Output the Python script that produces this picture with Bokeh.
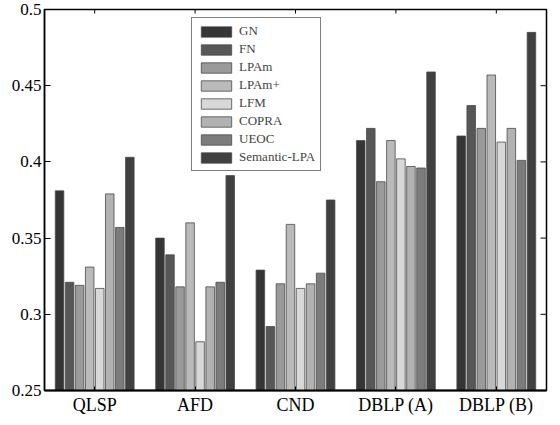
import math
from bokeh.plotting import figure
from bokeh.models import (ColumnDataSource, Legend, LegendItem, FixedTicker,
                          Range1d, NumeralTickFormatter)
from bokeh.embed import file_html
from bokeh.resources import INLINE

datasets = ["QLSP", "AFD", "CND", "DBLP (A)", "DBLP (B)"]
methods = ["GN", "FN", "LPAm", "LPAm+", "LFM", "COPRA", "UEOC", "Semantic-LPA"]
values = {
    "GN":           [0.381, 0.350, 0.329, 0.414, 0.417],
    "FN":           [0.321, 0.339, 0.292, 0.422, 0.437],
    "LPAm":         [0.319, 0.318, 0.320, 0.387, 0.422],
    "LPAm+":        [0.331, 0.360, 0.359, 0.414, 0.457],
    "LFM":          [0.317, 0.282, 0.317, 0.402, 0.413],
    "COPRA":        [0.379, 0.318, 0.320, 0.397, 0.422],
    "UEOC":         [0.357, 0.321, 0.327, 0.396, 0.401],
    "Semantic-LPA": [0.403, 0.391, 0.375, 0.459, 0.485],
}
colors = ["#353535", "#575757", "#9a9a9a", "#bababa", "#d8d8d8", "#b2b2b2", "#7c7c7c", "#404040"]
y_ticks = [0.25, 0.3, 0.35, 0.4, 0.45, 0.5]
x_min, x_max = 0.5, 5.5
y_min, y_max = 0.25, 0.5

FONT = "Liberation Serif"

p = figure(width=548, height=417, output_backend="svg", toolbar_location=None,
           x_range=Range1d(x_min, x_max), y_range=Range1d(y_min, y_max),
           min_border_left=44, min_border_right=2, min_border_top=9, min_border_bottom=0)
p.background_fill_color = "white"
p.outline_line_color = "black"
p.outline_line_width = 1.5
p.xgrid.visible = False
p.ygrid.visible = False

slot = 0.1
bw = 0.085
items = []
xs_cat = list(range(1, len(datasets) + 1))
for j, m in enumerate(methods):
    xs = [c + (j - (len(methods) - 1) / 2) * slot for c in xs_cat]
    src = ColumnDataSource(dict(x=xs, top=values[m]))
    r = p.vbar(x="x", top="top", bottom=y_min, width=bw, source=src,
               fill_color=colors[j], line_color="#4a4a4a", line_width=0.8)
    items.append(LegendItem(label=m, renderers=[r]))

# inward ticks on the top and right edges of the box
p.scatter(x=xs_cat, y=[y_max] * len(xs_cat), marker="dash", angle=math.pi / 2,
          size=8, line_color="black", line_width=1)
p.scatter(x=[x_max] * len(y_ticks), y=y_ticks, marker="dash",
          size=12, line_color="black", line_width=1)

# bottom axis
xa = p.xaxis[0]
xa.ticker = FixedTicker(ticks=xs_cat)
xa.major_label_overrides = {i + 1: d for i, d in enumerate(datasets)}
xa.major_tick_in = 4
xa.major_tick_out = 0
xa.minor_tick_line_color = None
xa.axis_line_width = 2
xa.major_label_text_font = FONT
xa.major_label_text_font_size = "18px"
xa.major_label_text_color = "black"
xa.major_label_standoff = 4
xa.axis_label_standoff = 0

ya = p.yaxis[0]
ya.ticker = FixedTicker(ticks=y_ticks)
ya.formatter = NumeralTickFormatter(format="0.[00]")
ya.major_tick_in = 6
ya.major_tick_out = 0
ya.minor_tick_line_color = None
ya.axis_line_width = 1.5
ya.major_label_text_font = FONT
ya.major_label_text_font_size = "17px"
ya.major_label_text_color = "black"
ya.major_label_standoff = 3
ya.axis_label_standoff = 0

legend = Legend(items=items, location=(147, 219), glyph_width=38, glyph_height=13,
                label_text_font=FONT, label_text_font_size="13px", label_height=13,
                spacing=2, padding=5, margin=0, label_standoff=4,
                border_line_color="black", border_line_width=1.5,
                background_fill_alpha=1.0)
p.add_layout(legend, "center")

open("out.html", "w").write(file_html(p, INLINE))
